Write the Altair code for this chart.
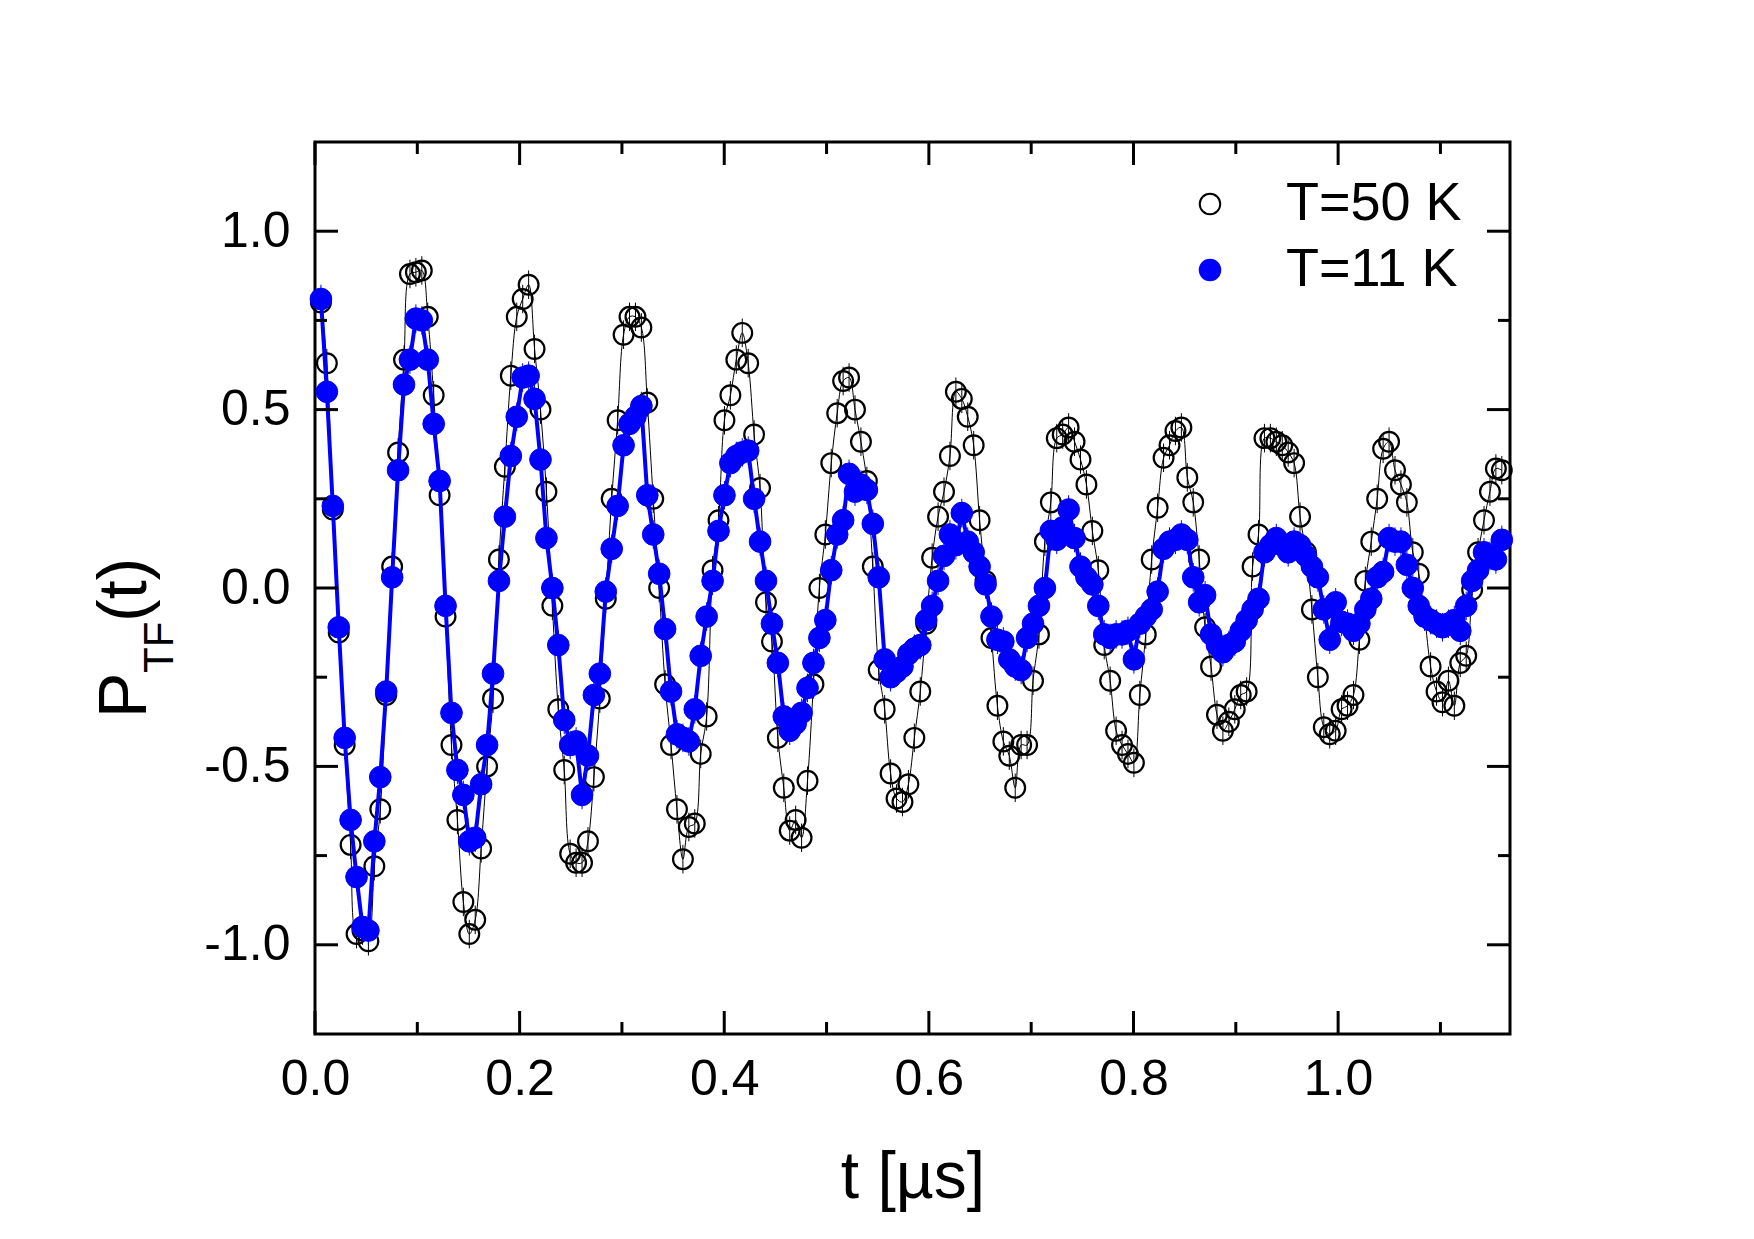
import altair as alt
import pandas as pd

# ---------------- data ----------------
SERIES = ["T=50 K", "T=11 K"]
T_START = 0.0058      # first time bin [µs]
T_STEP = 0.0058       # bin width [µs]

P_50K = [
    0.80, 0.63, 0.22, -0.125, -0.44, -0.72, -0.97, -0.96, -0.99, -0.78,
    -0.62, -0.30, 0.06, 0.38, 0.64, 0.88, 0.885, 0.89, 0.76, 0.54,
    0.26, -0.08, -0.44, -0.65, -0.88, -0.97, -0.93, -0.73, -0.50, -0.31,
    0.08, 0.34, 0.595, 0.76, 0.81, 0.85, 0.67, 0.50, 0.27, -0.05,
    -0.34, -0.51, -0.745, -0.77, -0.77, -0.71, -0.53, -0.31, -0.03, 0.25,
    0.47, 0.71, 0.76, 0.76, 0.73, 0.52, 0.25, 0.00, -0.27, -0.44,
    -0.62, -0.76, -0.67, -0.66, -0.465, -0.36, 0.05, 0.19, 0.47, 0.54,
    0.64, 0.715, 0.63, 0.43, 0.28, -0.04, -0.15, -0.42, -0.56, -0.68,
    -0.65, -0.70, -0.54, -0.27, 0.00, 0.15, 0.35, 0.49, 0.58, 0.59,
    0.50, 0.41, 0.30, 0.06, -0.23, -0.34, -0.52, -0.59, -0.60, -0.55,
    -0.42, -0.29, -0.10, 0.085, 0.20, 0.27, 0.37, 0.55, 0.53, 0.48,
    0.40, 0.19, 0.02, -0.14, -0.33, -0.43, -0.47, -0.56, -0.44, -0.44,
    -0.26, -0.13, 0.13, 0.24, 0.42, 0.43, 0.45, 0.41, 0.36, 0.29,
    0.16, 0.05, -0.16, -0.26, -0.40, -0.44, -0.465, -0.49, -0.30, -0.13,
    0.08, 0.225, 0.365, 0.40, 0.44, 0.45, 0.31, 0.24, 0.08, -0.11,
    -0.22, -0.355, -0.40, -0.375, -0.34, -0.30, -0.29, 0.06, 0.15, 0.42,
    0.42, 0.41, 0.40, 0.38, 0.35, 0.20, 0.10, -0.06, -0.25, -0.39,
    -0.41, -0.40, -0.34, -0.33, -0.30, -0.145, 0.02, 0.13, 0.25, 0.39,
    0.41, 0.33, 0.29, 0.24, 0.10, 0.04, -0.08, -0.22, -0.29, -0.32,
    -0.26, -0.33, -0.21, -0.19, -0.005, 0.10, 0.19, 0.27, 0.335, 0.33,
]

P_11K = [
    0.81, 0.55, 0.23, -0.11, -0.42, -0.65, -0.81, -0.95, -0.96, -0.71,
    -0.53, -0.29, 0.03, 0.33, 0.57, 0.64, 0.755, 0.75, 0.64, 0.46,
    0.30, -0.05, -0.35, -0.51, -0.58, -0.71, -0.70, -0.55, -0.44, -0.24,
    0.02, 0.20, 0.37, 0.48, 0.59, 0.595, 0.53, 0.36, 0.14, 0.00,
    -0.16, -0.37, -0.44, -0.43, -0.58, -0.47, -0.30, -0.24, -0.01, 0.11,
    0.23, 0.40, 0.46, 0.48, 0.51, 0.26, 0.15, 0.04, -0.115, -0.29,
    -0.41, -0.42, -0.43, -0.34, -0.19, -0.08, 0.02, 0.16, 0.26, 0.35,
    0.37, 0.38, 0.385, 0.25, 0.13, 0.02, -0.10, -0.21, -0.36, -0.40,
    -0.38, -0.35, -0.28, -0.21, -0.14, -0.09, 0.05, 0.15, 0.19, 0.32,
    0.27, 0.29, 0.275, 0.18, 0.03, -0.20, -0.25, -0.235, -0.22, -0.185,
    -0.17, -0.16, -0.09, -0.05, 0.02, 0.09, 0.15, 0.12, 0.21, 0.13,
    0.10, 0.06, 0.01, -0.08, -0.145, -0.15, -0.20, -0.22, -0.23, -0.14,
    -0.10, -0.05, 0.00, 0.16, 0.135, 0.17, 0.22, 0.14, 0.06, 0.03,
    0.01, -0.05, -0.13, -0.14, -0.13, -0.13, -0.12, -0.20, -0.10, -0.08,
    -0.06, -0.01, 0.11, 0.13, 0.135, 0.15, 0.135, 0.03, -0.04, -0.02,
    -0.13, -0.16, -0.18, -0.16, -0.15, -0.12, -0.09, -0.06, -0.03, 0.10,
    0.12, 0.14, 0.12, 0.10, 0.13, 0.12, 0.09, 0.06, 0.03, -0.06,
    -0.145, -0.04, -0.095, -0.10, -0.12, -0.10, -0.06, -0.03, 0.03, 0.045,
    0.14, 0.13, 0.13, 0.065, 0.00, -0.05, -0.08, -0.09, -0.10, -0.11,
    -0.10, -0.09, -0.12, -0.05, 0.02, 0.05, 0.10, 0.09, 0.08, 0.135,
]

ERR = 0.04   # error-bar half length

X_LABELS = [0.0, 0.2, 0.4, 0.6, 0.8, 1.0]
X_MINOR = [0.1, 0.3, 0.5, 0.7, 0.9, 1.1]
Y_LABELS = [-1.0, -0.5, 0.0, 0.5, 1.0]
Y_MINOR = [-0.75, -0.25, 0.25, 0.75]
X_DOMAIN = [0.0, 1.168]
Y_DOMAIN = [-1.25, 1.25]

# ---------------- tables ----------------
times = [round(T_START + T_STEP * i, 4) for i in range(len(P_50K))]
df50 = pd.DataFrame({"t": times, "val": P_50K, "series": SERIES[0]})
df11 = pd.DataFrame({"t": times[:len(P_11K)], "val": P_11K, "series": SERIES[1]})
for d in (df50, df11):
    d["lo"] = d["val"] - ERR
    d["hi"] = d["val"] + ERR

W, H = 1195, 892
FONT = "Liberation Sans"
BLUE = "#0000ff"

xs = alt.Scale(domain=X_DOMAIN, nice=False, zero=False)
ys = alt.Scale(domain=Y_DOMAIN, nice=False, zero=False)
fmt = "replace(format(datum.value, '.1f'), '\u2212', '-')"

x_axis = alt.Axis(values=X_LABELS, ticks=False, domain=False, grid=False,
                  labelFontSize=50, labelFont=FONT, labelPadding=20,
                  labelExpr=fmt, labelOverlap=False, labelFlush=False,
                  title="t [µs]", titleFontSize=66, titleFont=FONT,
                  titleFontWeight="normal", titleY=163,
                  titleBaseline="alphabetic")
y_axis = alt.Axis(values=Y_LABELS, ticks=False, domain=False, grid=False,
                  labelFontSize=50, labelFont=FONT, labelPadding=25,
                  labelExpr=fmt, labelOverlap=False, title=None)

X = alt.X("t:Q", scale=xs, axis=x_axis)
Y = alt.Y("val:Q", scale=ys, axis=y_axis)

legend = alt.Legend(orient="none", legendX=868, legendY=35, title=None,
                    labelFontSize=54, labelFont=FONT, labelColor="black",
                    symbolSize=420, symbolStrokeWidth=2, symbolType="circle",
                    labelOffset=49, rowPadding=12, padding=0, labelLimit=0)
stroke_enc = alt.Stroke("series:N", scale=alt.Scale(domain=SERIES, range=["black", BLUE]),
                        legend=legend)
fill_enc = alt.Fill("series:N", scale=alt.Scale(domain=SERIES, range=["transparent", BLUE]),
                    legend=legend)

fit50 = alt.Chart(df50).mark_line(color="black", strokeWidth=1,
                                  interpolate="catmull-rom").encode(x=X, y=Y)
err50 = alt.Chart(df50).mark_rule(color="black", strokeWidth=1).encode(
    x=X, y=alt.Y("lo:Q", scale=ys, axis=y_axis), y2="hi:Q")
pts50 = alt.Chart(df50).mark_point(shape="circle", size=390, strokeWidth=2.2,
                                   opacity=1, filled=False).encode(
    x=X, y=Y, stroke=stroke_enc, fill=fill_enc)

err11 = alt.Chart(df11).mark_rule(color=BLUE, strokeWidth=1).encode(
    x=X, y=alt.Y("lo:Q", scale=ys, axis=y_axis), y2="hi:Q")
line11 = alt.Chart(df11).mark_line(color=BLUE, strokeWidth=4).encode(x=X, y=Y)
pts11 = alt.Chart(df11).mark_point(shape="circle", size=470, strokeWidth=1,
                                   opacity=1, filled=True).encode(
    x=X, y=Y, stroke=stroke_enc, fill=fill_enc)

# inward ticks on all four sides
def yticks(vals, length):
    d = pd.DataFrame({"val": vals})
    left = alt.Chart(d).mark_rule(color="black", strokeWidth=3).encode(
        y=Y, x=alt.value(0), x2=alt.value(length))
    right = alt.Chart(d).mark_rule(color="black", strokeWidth=3).encode(
        y=Y, x=alt.value(W), x2=alt.value(W - length))
    return [left, right]

def xticks(vals, length):
    d = pd.DataFrame({"t": vals})
    bottom = alt.Chart(d).mark_rule(color="black", strokeWidth=3).encode(
        x=X, y=alt.value(H), y2=alt.value(H - length))
    top = alt.Chart(d).mark_rule(color="black", strokeWidth=3).encode(
        x=X, y=alt.value(0), y2=alt.value(length))
    return [bottom, top]

ticks = yticks(Y_LABELS, 23) + yticks(Y_MINOR, 12) + xticks(X_LABELS, 23) + xticks(X_MINOR, 12)

# y-axis title P_TF(t) built from pieces (subscript)
def ytitle(label, size, x, y):
    return alt.Chart(pd.DataFrame({"label": [label]})).mark_text(
        angle=270, align="left", baseline="alphabetic", fontSize=size,
        font=FONT, color="black").encode(
        text="label:N", x=alt.value(x), y=alt.value(y))

titles = [ytitle("P", 68, -169, 576), ytitle("TF", 42, -142, 531),
          ytitle("(t)", 68, -169, 480)]

chart = alt.layer(fit50, err50, pts50, err11, line11, pts11, *ticks, *titles).properties(
    width=W, height=H,
    autosize=alt.AutoSizeParams(type="none"),
    padding={"left": 307, "top": 134, "right": 230, "bottom": 190},
    background="white",
).configure_view(stroke="black", strokeWidth=3).configure_axis(
    labelColor="black", titleColor="black")

chart.save("out.html", embed_options={"renderer": "svg", "actions": False})
